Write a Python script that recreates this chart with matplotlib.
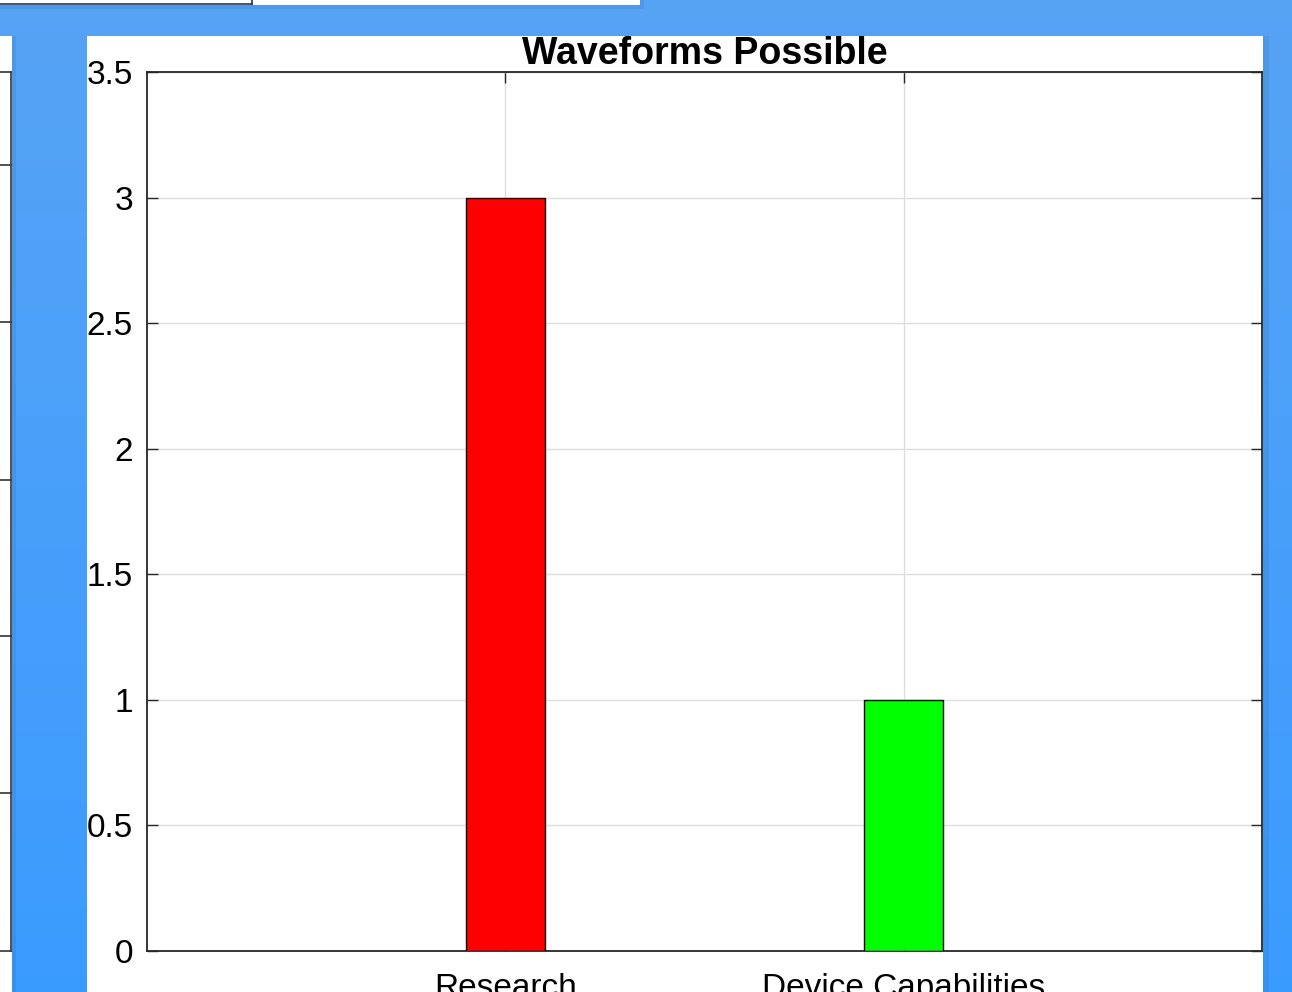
import numpy as np
import matplotlib
matplotlib.use("Agg")
import matplotlib.pyplot as plt
from matplotlib.patches import Rectangle
from matplotlib.transforms import Bbox, TransformedBbox

categories = ["Research", "Device Capabilities"]
counts = [3, 1]
bar_colors = ["#ff0000", "#00ff00"]
y_ticks = [0, 0.5, 1, 1.5, 2, 2.5, 3, 3.5]
y_labels = ["0", "0.5", "1", "1.5", "2", "2.5", "3", "3.5"]

W, H = 1292, 992
plt.rcParams["font.family"] = ["Liberation Sans", "DejaVu Sans"]
fig = plt.figure(figsize=(W / 100, H / 100), dpi=100)

# desktop background: blue vertical gradient, drawn in pixel coordinates
bg = fig.add_axes([0, 0, 1, 1])
bg.set_xlim(0, W)
bg.set_ylim(H, 0)
bg.axis("off")
grad = np.linspace(0, 1, 256)[:, None]
top = np.array([0.34, 0.64, 0.96])
bot = np.array([0.23, 0.61, 1.0])
img = top[None, None, :] * (1 - grad[..., None]) + bot[None, None, :] * grad[..., None]
bg.imshow(img, extent=(0, W, H, 0), aspect="auto", zorder=0)

# neighbouring windows
bg.add_patch(Rectangle((0, 0), 644, 9, color="#1f4f8a", alpha=0.12, lw=0, zorder=1))
bg.add_patch(Rectangle((0, 0), 640, 5, color="white", lw=0, zorder=2))
bg.plot([0, 252], [4, 4], color="#333333", lw=1.2, zorder=3)
bg.plot([252, 252], [0, 4], color="#333333", lw=1.2, zorder=3)

bg.add_patch(Rectangle((0, 36), 16, H - 36, color="#1f4f8a", alpha=0.12, lw=0, zorder=1))
bg.add_patch(Rectangle((0, 36), 12, H - 36, color="white", lw=0, zorder=2))
bg.plot([11, 11], [72, 951], color="#333333", lw=1.2, zorder=3)
bg.plot([0, 11], [72, 72], color="#333333", lw=1.2, zorder=3)
bg.plot([0, 11], [951, 951], color="#333333", lw=1.2, zorder=3)
for yy in [165, 322, 480, 636, 793]:
    bg.plot([0, 11], [yy, yy], color="#333333", lw=1.2, zorder=3)

# main figure window
bg.add_patch(Rectangle((87, 36), 1182, H - 36, color="#1f4f8a", alpha=0.12, lw=0, zorder=1))
bg.add_patch(Rectangle((87, 36), 1176, H - 36, color="white", lw=0, zorder=2))

# bar chart axes
x0, x1, y0, y1 = 147, 1262, 72, 951
ax = fig.add_axes([x0 / W, (H - y1) / H, (x1 - x0) / W, (y1 - y0) / H])
ax.set_facecolor("white")
xpos = np.arange(1, len(categories) + 1)
ax.bar(xpos, counts, width=0.2, color=bar_colors, edgecolor="black", linewidth=1, zorder=3)
ax.set_xlim(0.1, 2.9)
ax.set_ylim(0, 3.5)
ax.set_xticks(xpos)
ax.set_xticklabels(categories)
ax.set_yticks(y_ticks)
ax.set_yticklabels(y_labels)
ax.grid(True, color="#dedede", linewidth=1, zorder=0)
ax.set_axisbelow(True)
ax.tick_params(direction="in", length=8, width=1, color="#262626", labelsize=24,
               top=True, right=True)
ax.tick_params(axis="y", pad=10)
ax.tick_params(axis="x", pad=16)
for s in ax.spines.values():
    s.set_color("#262626")
    s.set_linewidth(1.3)
ax.set_title("Waveforms Possible", fontsize=27, fontweight="bold", pad=6)

# labels are cut at the window edge
win = TransformedBbox(Bbox([[87 / W, 0], [1263 / W, 1 - 36 / H]]), fig.transFigure)
for lbl in ax.get_yticklabels() + [ax.title]:
    lbl.set_clip_on(True)
    lbl.set_clip_box(win)

fig.savefig("out.png", dpi=100)
